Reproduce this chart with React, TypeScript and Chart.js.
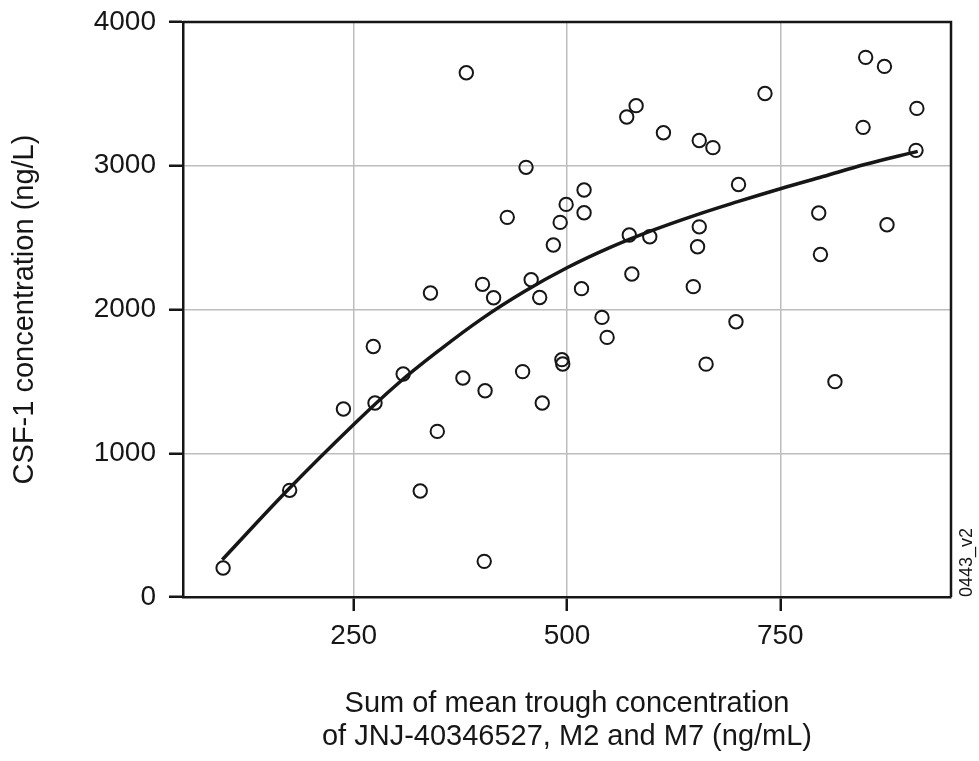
import React, { useEffect, useRef } from "react";
import { Chart, registerables } from "chart.js";

Chart.register(...registerables);

// Observed data: sum of mean trough concentration (ng/mL) vs CSF-1 (ng/L)
const troughConc = [
  97, 175, 238, 275, 273, 308, 328, 340, 348, 382, 378, 401, 414, 404, 403,
  430, 448, 452, 458, 468, 471, 484, 492, 499, 494, 495, 520, 520, 517, 541,
  547, 570, 581, 573, 576, 597, 613, 655, 671, 648, 653, 655, 663, 698, 701,
  732, 795, 797, 814, 850, 872, 847, 875, 910, 909,
];
const csf1 = [
  202, 742, 1308, 1350, 1743, 1551, 737, 2115, 1152, 3647, 1523, 2175, 2082, 1435, 248,
  2641, 1568, 2989, 2207, 2083, 1350, 2449, 2606, 2731, 1651, 1621, 2831, 2673, 2145, 1945,
  1806, 3339, 3418, 2518, 2247, 2506, 3230, 3176, 3126, 2159, 2437, 2575, 1620, 1915, 2870,
  3503, 2671, 2383, 1498, 3754, 3691, 3267, 2590, 3399, 3107,
];

// Fitted curve
const fitConc = [96, 175, 250, 300, 350, 400, 450, 500, 550, 600, 650, 700, 750, 800, 850, 911];
const fitCsf1 = [259, 758, 1200, 1475, 1715, 1935, 2125, 2290, 2430, 2550, 2655, 2750, 2840, 2925, 3010, 3100];

const xTickValues = [250, 500, 750];
const yTickValues = [0, 1000, 2000, 3000, 4000];

const FONT = "'Liberation Sans', Arial, Helvetica, sans-serif";
const INK = "#161616";

export default function App() {
  const ref = useRef<HTMLCanvasElement>(null);

  useEffect(() => {
    if (!ref.current) return;

    const framePlugin = {
      id: "frame",
      afterDraw(chart: any) {
        const { ctx, chartArea } = chart;
        const { left, right, top, bottom } = chartArea;
        ctx.save();
        ctx.strokeStyle = INK;
        ctx.lineWidth = 2.5;
        ctx.beginPath();
        ctx.moveTo(left, top);
        ctx.lineTo(right, top);
        ctx.lineTo(right, bottom);
        ctx.stroke();
        // figure code, rotated
        ctx.translate(967, bottom);
        ctx.rotate(-Math.PI / 2);
        ctx.fillStyle = INK;
        ctx.font = `18px ${FONT}`;
        ctx.textAlign = "left";
        ctx.textBaseline = "middle";
        ctx.fillText("0443_v2", 0, 0);
        ctx.restore();
      },
    };

    const zeroPad = (scale: any) => {
      scale.paddingTop = 0;
      scale.paddingBottom = 0;
      scale.paddingLeft = 0;
      scale.paddingRight = 0;
    };

    const chart = new Chart(ref.current, {
      type: "scatter",
      data: {
        datasets: [
          {
            type: "line",
            label: "Fit",
            data: fitConc.map((x, i) => ({ x, y: fitCsf1[i] })),
            borderColor: INK,
            borderWidth: 3.5,
            pointRadius: 0,
            fill: false,
            tension: 0.4,
            order: 1,
          } as any,
          {
            type: "scatter",
            label: "Observed",
            data: troughConc.map((x, i) => ({ x, y: csf1[i] })),
            pointStyle: "circle",
            pointRadius: 6.7,
            pointBorderWidth: 2,
            borderColor: INK,
            backgroundColor: "rgba(255,255,255,0)",
            order: 2,
          } as any,
        ],
      },
      options: {
        responsive: false,
        animation: false,
        devicePixelRatio: 1,
        layout: { padding: { left: 0, right: 28, top: 22, bottom: 0 } },
        plugins: {
          legend: { display: false },
          tooltip: { enabled: false },
        },
        scales: {
          x: {
            type: "linear",
            min: 50,
            max: 950,
            afterBuildTicks: (scale: any) => {
              scale.ticks = xTickValues.map((v) => ({ value: v }));
            },
            afterFit: (scale: any) => {
              scale.height = 164;
              zeroPad(scale);
            },
            grid: {
              color: "#bdbdbd",
              lineWidth: 1.5,
              drawTicks: true,
              tickLength: 14,
              tickColor: INK,
              tickWidth: 2.5,
            },
            border: { display: true, color: INK, width: 2.5 },
            ticks: {
              color: INK,
              font: { family: FONT, size: 28 },
              padding: 8,
              maxRotation: 0,
              callback: (v: any) => String(v),
            },
            title: {
              display: true,
              text: [
                "Sum of mean trough concentration",
                "of JNJ-40346527, M2 and M7 (ng/mL)",
              ],
              color: INK,
              font: { family: FONT, size: 29, lineHeight: 1.14 },
              padding: { top: 0, bottom: 7.5 },
            },
          },
          y: {
            type: "linear",
            min: 0,
            max: 4000,
            afterBuildTicks: (scale: any) => {
              scale.ticks = yTickValues.map((v) => ({ value: v }));
            },
            afterFit: (scale: any) => {
              scale.width = 183;
              zeroPad(scale);
            },
            grid: {
              color: "#bdbdbd",
              lineWidth: 1.5,
              drawTicks: true,
              tickLength: 14,
              tickColor: INK,
              tickWidth: 2.5,
            },
            border: { display: true, color: INK, width: 2.5 },
            ticks: {
              color: INK,
              font: { family: FONT, size: 28 },
              padding: 13,
              callback: (v: any) => String(v),
            },
            title: {
              display: true,
              text: "CSF-1 concentration (ng/L)",
              color: INK,
              font: { family: FONT, size: 29, lineHeight: 1.2 },
              padding: { top: 8, bottom: 0 },
            },
          },
        },
      },
      plugins: [framePlugin],
    } as any);

    return () => chart.destroy();
  }, []);

  return (
    <div
      style={{
        position: "absolute",
        left: 0,
        top: 0,
        width: 979,
        height: 761,
        background: "#ffffff",
      }}
    >
      <canvas ref={ref} width={979} height={761} style={{ width: 979, height: 761 }} />
    </div>
  );
}
